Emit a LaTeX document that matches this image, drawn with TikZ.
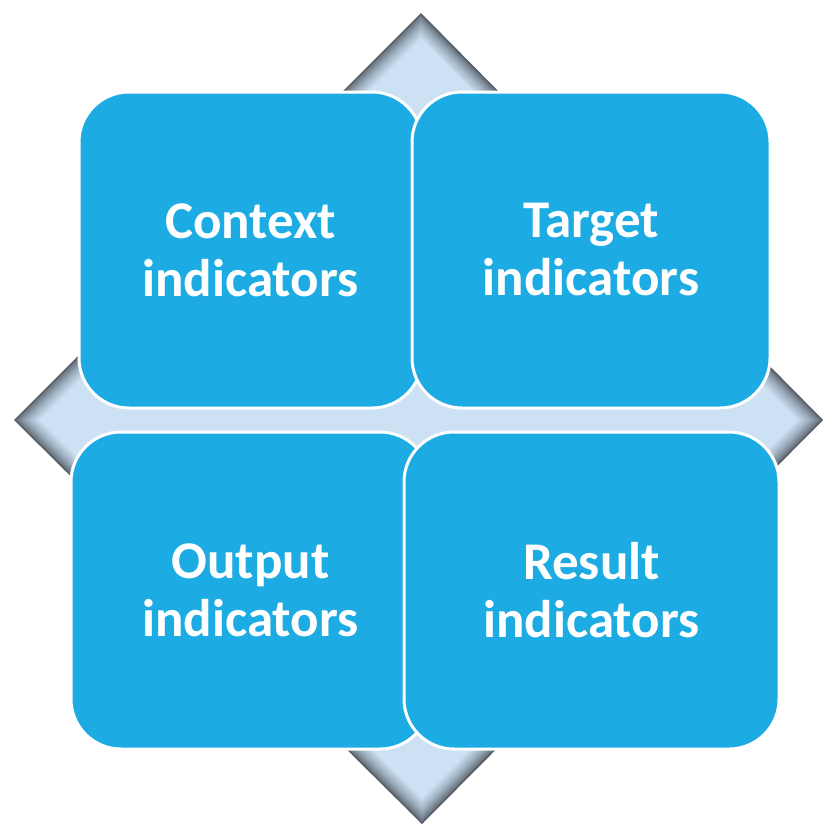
\documentclass[tikz,border=0pt]{standalone}
\usepackage{fontspec}
\setmainfont{Carlito}
\definecolor{boxblue}{HTML}{1DABE3}
\definecolor{diafill}{HTML}{CCE1F4}
\definecolor{diadark}{HTML}{4E5660}
\tikzset{
  quad/.style={draw=white, line width=3pt, fill=boxblue, rounded corners=50pt,
    text=white, font=\bfseries\fontsize{53}{58}\selectfont, align=center,
    inner sep=0pt, outer sep=0pt},
}
\begin{document}
\begin{tikzpicture}[x=1pt,y=-1pt]
\useasboundingbox (0,0) rectangle (823,825);
% bevelled diamond
\foreach \d in {0,...,18}{
  \pgfmathsetmacro\k{\d*1.414}
  \pgfmathtruncatemacro\p{100*(\d/18)^0.65}
  \fill[diafill!\p!diadark] (421,13+\k) -- (823-\k,420) -- (422,824-\k) -- (14+\k,420) -- cycle;
}
\node[quad, minimum width=343pt, minimum height=316pt] (ctx) at (250.5,250) {Context\\indicators};
\node[quad, minimum width=358pt, minimum height=316pt] (tgt) at (591,250) {Target\\indicators};
\node[quad, minimum width=359pt, minimum height=317pt] (out) at (250.5,590.5) {Output\\indicators};
\node[quad, minimum width=375pt, minimum height=317pt] (res) at (591.5,590.5) {Result\\indicators};
\end{tikzpicture}
\end{document}
